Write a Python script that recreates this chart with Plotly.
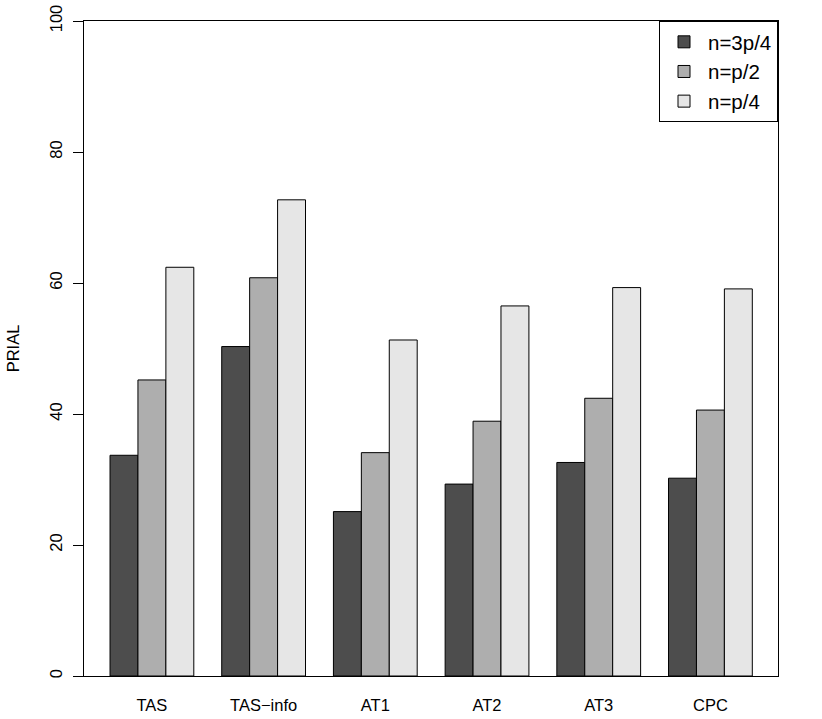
import plotly.graph_objects as go

categories = ["TAS", "TAS\u2212info", "AT1", "AT2", "AT3", "CPC"]
series_names = ["n=3p/4", "n=p/2", "n=p/4"]
vals_3p4 = [33.7, 50.3, 25.1, 29.3, 32.6, 30.2]
vals_p2 = [45.2, 60.8, 34.1, 38.9, 42.4, 40.6]
vals_p4 = [62.4, 72.7, 51.3, 56.5, 59.3, 59.1]
colors = ["#4D4D4D", "#AEAEAE", "#E6E6E6"]
y_ticks = [0, 20, 40, 60, 80, 100]

FONT = "Liberation Sans, Arial, Helvetica, sans-serif"

fig = go.Figure()
for name, vals, col in zip(series_names, [vals_3p4, vals_p2, vals_p4], colors):
    fig.add_trace(go.Bar(
        x=list(range(len(categories))), y=vals, name=name,
        marker=dict(color=col, line=dict(color="black", width=1)),
    ))

fig.update_layout(
    width=822, height=719,
    margin=dict(l=84, r=44, t=21, b=43, autoexpand=False),
    paper_bgcolor="white", plot_bgcolor="white",
    barmode="group", bargap=0.25, bargroupgap=0,
    font=dict(family=FONT, size=16, color="black"),
    showlegend=True,
    legend=dict(
        x=1, y=1, xanchor="right", yanchor="top",
        bordercolor="black", borderwidth=1, bgcolor="white",
        font=dict(size=20.5, family=FONT),
        itemwidth=38, tracegroupgap=0,
    ),
)
fig.update_xaxes(
    range=[-0.608, 5.605], tickmode="array",
    tickvals=list(range(len(categories))), ticktext=categories,
    showline=True, linecolor="black", linewidth=1, mirror=True,
    ticks="", showgrid=False, zeroline=False, automargin=False,
    tickfont=dict(size=16.5), ticklabelstandoff=14,
)
fig.update_yaxes(
    range=[0, 100], tickmode="array", tickvals=y_ticks,
    ticktext=[str(v) for v in y_ticks],
    showline=True, linecolor="black", linewidth=1, mirror=True,
    ticks="outside", ticklen=10, tickcolor="black", tickwidth=1,
    tickangle=-90, showgrid=False, zeroline=False, automargin=False,
    ticklabeloverflow="allow",
    tickfont=dict(size=16.5), ticklabelstandoff=4,
    title=dict(text="PRIAL", font=dict(size=16.5), standoff=23),
)
fig.write_html("out.html", config={"displayModeBar": False},
               post_script="document.body.style.margin='0';")
